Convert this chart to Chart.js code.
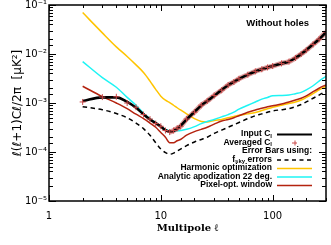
<!DOCTYPE html>
<html><head><meta charset="utf-8">
<script src="https://cdn.jsdelivr.net/npm/chart.js@4.4.0/dist/chart.umd.min.js"></script>
<style>html,body{margin:0;padding:0;background:#fff}canvas{display:block}</style>
</head><body>
<canvas id="c" width="331" height="245"></canvas>
<script>
// ---- data ----
const ell = [2,3,4,5,6,7,8,9,10,11,12,13,14,15,17,20,23,26,30,35,40,45,50,60,70,80,90,100,120,140,160,180,200,230,260,300];
const inputCl = [1.1e-3,1.3e-3,1.3e-3,1.05e-3,8.0e-4,5.9e-4,4.6e-4,3.9e-4,3.3e-4,2.8e-4,2.6e-4,2.7e-4,3.0e-4,3.4e-4,4.6e-4,6.6e-4,8.9e-4,1.1e-3,1.4e-3,1.85e-3,2.3e-3,2.7e-3,3.1e-3,3.8e-3,4.4e-3,4.9e-3,5.3e-3,5.7e-3,6.4e-3,7.0e-3,8.3e-3,1.0e-2,1.2e-2,1.58e-2,2.0e-2,2.8e-2];
const averagedCl = [1.05e-3,1.32e-3,1.34e-3,1.0e-3,8.2e-4,5.8e-4,4.7e-4,3.8e-4,3.35e-4,2.75e-4,2.55e-4,2.75e-4,3.05e-4,3.35e-4,4.7e-4,6.5e-4,9.0e-4,1.1e-3,1.42e-3,1.83e-3,2.32e-3,2.68e-3,3.12e-3,3.78e-3,4.42e-3,4.88e-3,5.32e-3,5.68e-3,6.42e-3,7.0e-3,8.3e-3,1.0e-2,1.2e-2,1.57e-2,2.0e-2,2.8e-2];
const fskyErr = [8.4e-4,7.3e-4,6.1e-4,5.0e-4,3.9e-4,3.0e-4,2.2e-4,1.55e-4,1.15e-4,9.7e-5,9.0e-5,9.5e-5,1.05e-4,1.15e-4,1.35e-4,1.6e-4,1.8e-4,2.0e-4,2.4e-4,2.8e-4,3.2e-4,3.6e-4,4.0e-4,4.8e-4,5.5e-4,6.0e-4,6.5e-4,6.9e-4,7.3e-4,7.7e-4,8.4e-4,9.3e-4,1.05e-3,1.25e-3,1.45e-3,1.75e-3];
const harmonicOpt = [7.0e-2,2.7e-2,1.4e-2,8.9e-3,6.0e-3,4.2e-3,2.8e-3,1.9e-3,1.38e-3,1.14e-3,1.02e-3,9.0e-4,8.0e-4,7.2e-4,6.0e-4,4.8e-4,4.2e-4,4.1e-4,4.4e-4,4.6e-4,5.0e-4,5.3e-4,5.6e-4,6.0e-4,6.4e-4,7.0e-4,7.6e-4,8.2e-4,9.0e-4,9.8e-4,1.05e-3,1.15e-3,1.3e-3,1.55e-3,1.85e-3,2.2e-3];
const analyticApod = [7.0e-3,3.3e-3,2.1e-3,1.3e-3,9.0e-4,6.2e-4,4.8e-4,4.0e-4,3.35e-4,2.9e-4,2.7e-4,2.65e-4,2.7e-4,2.75e-4,2.9e-4,3.3e-4,3.8e-4,4.2e-4,4.6e-4,5.2e-4,5.8e-4,6.5e-4,7.5e-4,9.0e-4,1.05e-3,1.2e-3,1.3e-3,1.4e-3,1.42e-3,1.45e-3,1.55e-3,1.65e-3,1.85e-3,2.25e-3,2.8e-3,3.5e-3];
const pixelOpt = [2.2e-3,1.35e-3,1.0e-3,7.7e-4,5.9e-4,4.8e-4,3.9e-4,3.2e-4,2.5e-4,2.0e-4,1.55e-4,1.55e-4,1.7e-4,1.8e-4,2.2e-4,2.6e-4,2.9e-4,3.2e-4,3.7e-4,4.3e-4,4.6e-4,5.0e-4,5.5e-4,6.5e-4,7.2e-4,7.8e-4,8.4e-4,8.8e-4,9.5e-4,1.05e-3,1.15e-3,1.25e-3,1.4e-3,1.7e-3,2.0e-3,2.35e-3];
const xTickLabels = [1,10,100];
const yTickLabels = {1e-1:'10⁻¹',1e-2:'10⁻²',1e-3:'10⁻³',1e-4:'10⁻⁴',1e-5:'10⁻⁵'};

const pts = arr => ell.map((l,i)=>({x:l,y:arr[i]}));
const isPow10 = v => Math.abs(Math.log10(v)-Math.round(Math.log10(v)))<1e-6;

const C_BLACK='#000000', C_YEL='#FFC400', C_CYAN='#1EF4F4', C_RED='#B4230F', C_CROSS='#C84848';

const lineDs = (label,arr,color,w,extra) => Object.assign({label,data:pts(arr),borderColor:color,borderWidth:w,pointRadius:0,fill:false,cubicInterpolationMode:'monotone'},extra||{});

const legendRows = [
  {parts:[['Input C',0],['l',1]], kind:'line', color:C_BLACK, w:2},
  {parts:[['Averaged C',0],['l',1]], kind:'cross', color:C_CROSS},
  {parts:[['Error Bars using:',0]], kind:'none'},
  {parts:[['f',0],['sky',1],[' errors',0]], kind:'dash', color:C_BLACK, w:1.5},
  {parts:[['Harmonic optimization',0]], kind:'line', color:C_YEL, w:1.5},
  {parts:[['Analytic apodization 22 deg.',0]], kind:'line', color:C_CYAN, w:1.5},
  {parts:[['Pixel-opt. window',0]], kind:'line', color:C_RED, w:1.5}
];

const framePlugin = {
  id:'frame',
  afterDatasetsDraw(chart){
    const {ctx, chartArea:a, scales:{x,y}} = chart;
    ctx.save();
    ctx.strokeStyle='#000'; ctx.lineWidth=1;
    ctx.beginPath();
    x.ticks.forEach(t=>{
      const v=t.value; if(v<x.min||v>x.max) return;
      const px=Math.round(x.getPixelForValue(v))+0.5; const L=isPow10(v)?6:3;
      ctx.moveTo(px,a.bottom); ctx.lineTo(px,a.bottom-L);
      ctx.moveTo(px,a.top); ctx.lineTo(px,a.top+L);
    });
    y.ticks.forEach(t=>{
      const v=t.value; if(v<y.min*0.999||v>y.max*1.001) return;
      const py=Math.round(y.getPixelForValue(v))+0.5; const L=isPow10(v)?7:4;
      ctx.moveTo(a.left,py); ctx.lineTo(a.left+L,py);
      ctx.moveTo(a.right,py); ctx.lineTo(a.right-L,py);
    });
    ctx.stroke();
    ctx.lineWidth=1.5;
    ctx.strokeRect(a.left,a.top,a.right-a.left,a.bottom-a.top);
    ctx.restore();
  },
  afterDraw(chart){
    const {ctx, chartArea:a} = chart;
    ctx.save();
    ctx.fillStyle='#000';
    ctx.textBaseline='middle';
    ctx.font='bold 9.5px "Liberation Sans"';
    ctx.textAlign='right';
    ctx.fillText('Without holes', a.right-17, a.top+18);
    const F='bold 8.5px "Liberation Sans"', FS='bold 6px "Liberation Sans"';
    const textRight = a.right-54, sx0=a.right-49, sx1=a.right-14;
    let yy = a.top+129; const dy=8.5;
    ctx.textAlign='left';
    legendRows.forEach(r=>{
      let tot=0;
      r.parts.forEach(([s,sub])=>{ctx.font=sub?FS:F; tot+=ctx.measureText(s).width;});
      let right = r.kind==='none' ? sx1 : textRight;
      let xx = right-tot;
      r.parts.forEach(([s,sub])=>{ctx.font=sub?FS:F; ctx.fillText(s,xx,yy+(sub?2:0)); xx+=ctx.measureText(s).width;});
      if(r.kind==='line'||r.kind==='dash'){
        ctx.beginPath(); ctx.strokeStyle=r.color; ctx.lineWidth=r.w;
        ctx.setLineDash(r.kind==='dash'?[4,3.5]:[]);
        ctx.moveTo(sx0,yy+0.5); ctx.lineTo(sx1,yy+0.5); ctx.stroke(); ctx.setLineDash([]);
      } else if(r.kind==='cross'){
        const cx=(sx0+sx1)/2; ctx.beginPath(); ctx.strokeStyle=r.color; ctx.lineWidth=1;
        ctx.moveTo(cx-2.5,yy+0.5); ctx.lineTo(cx+2.5,yy+0.5); ctx.moveTo(cx+0.5,yy-2); ctx.lineTo(cx+0.5,yy+3); ctx.stroke();
      }
      yy+=dy;
    });
    ctx.restore();
  }
};

new Chart(document.getElementById('c'), {
  type:'line',
  data:{datasets:[
    {label:'Averaged C_l', data:pts(averagedCl), showLine:false, pointStyle:'cross', pointRadius:3, pointBorderColor:C_CROSS, pointBorderWidth:1, borderColor:C_CROSS, order:0},
    lineDs('Input C_l', inputCl, C_BLACK, 2.6, {order:1}),
    {label:'Averaged band', data:pts(averagedCl), borderColor:'rgba(200,80,80,0.55)', borderWidth:5, pointRadius:0, cubicInterpolationMode:'monotone',
      segment:{borderColor:c=>c.p0.parsed.x>=12?'rgba(200,80,80,0.55)':'rgba(0,0,0,0)'}, order:2},
    lineDs('Pixel-opt. window', pixelOpt, C_RED, 1.5, {order:3}),
    lineDs('Analytic apodization 22 deg.', analyticApod, C_CYAN, 1.5, {order:4}),
    lineDs('Harmonic optimization', harmonicOpt, C_YEL, 1.5, {order:5}),
    lineDs('f_sky errors', fskyErr, C_BLACK, 1.5, {borderDash:[4.5,3.5], order:6})
  ]},
  options:{
    responsive:false, animation:false, devicePixelRatio:1,
    layout:{padding:{top:5,right:4,left:0,bottom:0}},
    plugins:{legend:{display:false}, tooltip:{enabled:false}},
    scales:{
      x:{type:'logarithmic', min:1, max:300,
        grid:{display:false, drawTicks:false}, border:{display:false},
        ticks:{autoSkip:false, maxRotation:0, padding:9, color:'#000', font:{family:'DejaVu Sans', size:10},
          callback:v=> xTickLabels.includes(v) ? String(v) : ''},
        title:{display:true, text:'Multipole ℓ', color:'#000', font:{family:'DejaVu Serif', size:10, weight:'bold'}, padding:{top:0,bottom:11}},
        afterFit:s=>{s.height=44; s.paddingLeft=0; s.paddingRight=0;}
      },
      y:{type:'logarithmic', min:1e-5, max:1e-1,
        grid:{display:false, drawTicks:false}, border:{display:false},
        ticks:{autoSkip:false, padding:2, color:'#000', font:{family:'DejaVu Sans', size:10},
          callback:v=>{ for(const k in yTickLabels){ if(Math.abs(v/Number(k)-1)<1e-6) return yTickLabels[k]; } return ''; }},
        title:{display:true, text:'ℓ(ℓ+1)Cℓ/2π  [μK²]', color:'#000', font:{family:'DejaVu Sans', size:12}, padding:{top:11,bottom:0}},
        afterFit:s=>{s.width=49; s.paddingTop=0; s.paddingBottom=0;}
      }
    }
  },
  plugins:[framePlugin]
});
</script>
</body></html>
